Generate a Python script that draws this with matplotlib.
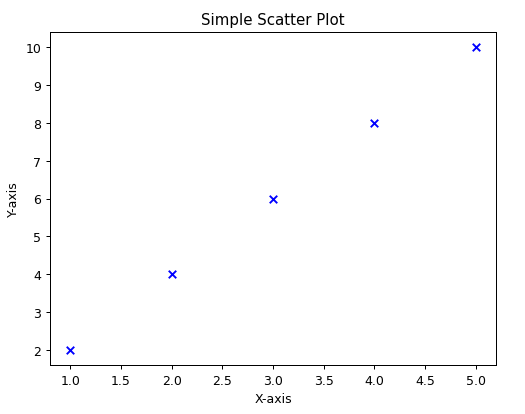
import matplotlib
matplotlib.use('Agg')
import matplotlib.pyplot as plt

# data
x_values = [1, 2, 3, 4, 5]
y_values = [2, 4, 6, 8, 10]

dpi = 90
fig = plt.figure(figsize=(525 / dpi, 415 / dpi), dpi=dpi)
ax = fig.add_axes([50 / 525, 1 - 366 / 415, 446 / 525, 333 / 415])

ax.scatter(x_values, y_values, color='blue', marker='x')

ax.set_title('Simple Scatter Plot')
ax.set_xlabel('X-axis')
ax.set_ylabel('Y-axis')

fig.savefig('out.png', dpi=dpi)
